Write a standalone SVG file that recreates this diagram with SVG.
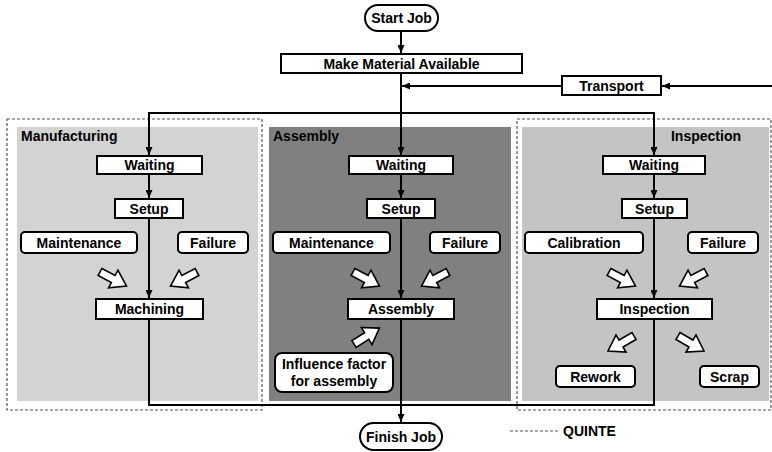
<svg xmlns="http://www.w3.org/2000/svg" width="772" height="452" viewBox="0 0 772 452">
<defs>
<style>
text{font-family:"Liberation Sans",Arial,sans-serif;font-weight:bold;font-size:14px;fill:#000}
.c{text-anchor:middle}
.box{fill:#fff;stroke:#000;stroke-width:2}
.ln{fill:none;stroke:#000;stroke-width:2}
.dash{fill:none;stroke:#555;stroke-width:1.2;stroke-dasharray:3,2}
.ha{fill:#fff;stroke:#000;stroke-width:1.6;stroke-linejoin:miter}
</style>
<marker id="ah" viewBox="0 0 8 7" refX="8" refY="3.5" markerWidth="8" markerHeight="7" markerUnits="userSpaceOnUse" orient="auto">
<path d="M0,0 L8,3.5 L0,7 Z" fill="#000"/>
</marker>
<path id="harrow" d="M0,-4 L15,-4 L15,-10 L30,0 L15,10 L15,4 L0,4 Z"/>
</defs>

<g id="panels">
<rect x="17" y="127" width="241" height="274" fill="#d3d3d3"/>
<rect x="269" y="127" width="242" height="274" fill="#808080"/>
<rect x="522" y="127" width="247" height="274" fill="#c4c4c4"/>
<rect x="7" y="119" width="255" height="291" class="dash"/>
<rect x="517" y="119" width="254" height="291" class="dash"/>
<text x="21" y="141">Manufacturing</text>
<text x="273" y="141">Assembly</text>
<text x="741" y="141" text-anchor="end">Inspection</text>
</g>

<g id="connectors">
<line x1="401" y1="31" x2="401" y2="53" class="ln" marker-end="url(#ah)"/>
<line x1="401" y1="73" x2="401" y2="155" class="ln" marker-end="url(#ah)"/>
<line x1="772" y1="86" x2="662" y2="86" class="ln" marker-end="url(#ah)"/>
<line x1="562" y1="86" x2="402" y2="86" class="ln" marker-end="url(#ah)"/>
<polyline points="149,155 149,113 654,113 654,155" class="ln"/>
<line x1="149" y1="113" x2="149" y2="155" class="ln" marker-end="url(#ah)"/>
<line x1="654" y1="113" x2="654" y2="155" class="ln" marker-end="url(#ah)"/>
<line x1="149" y1="174" x2="149" y2="198" class="ln" marker-end="url(#ah)"/>
<line x1="401" y1="174" x2="401" y2="198" class="ln" marker-end="url(#ah)"/>
<line x1="654" y1="174" x2="654" y2="198" class="ln" marker-end="url(#ah)"/>
<line x1="149" y1="218" x2="149" y2="298" class="ln" marker-end="url(#ah)"/>
<line x1="401" y1="218" x2="401" y2="298" class="ln" marker-end="url(#ah)"/>
<line x1="654" y1="218" x2="654" y2="298" class="ln" marker-end="url(#ah)"/>
<polyline points="149,319 149,405 654,405 654,319" class="ln"/>
<line x1="401" y1="319" x2="401" y2="422" class="ln" marker-end="url(#ah)"/>
<line x1="510" y1="431" x2="560" y2="431" class="dash"/>
</g>

<g id="hollow-arrows">
<use href="#harrow" class="ha" transform="translate(100,272) rotate(28)"/>
<use href="#harrow" class="ha" transform="translate(197,272) rotate(152)"/>
<use href="#harrow" class="ha" transform="translate(353,272) rotate(28)"/>
<use href="#harrow" class="ha" transform="translate(448,272) rotate(152)"/>
<use href="#harrow" class="ha" transform="translate(354,344) rotate(-32)"/>
<use href="#harrow" class="ha" transform="translate(609,272) rotate(28)"/>
<use href="#harrow" class="ha" transform="translate(706,272) rotate(152)"/>
<use href="#harrow" class="ha" transform="translate(634,336) rotate(150)"/>
<use href="#harrow" class="ha" transform="translate(678,336) rotate(30)"/>
</g>

<g id="start-job"><rect x="365" y="5" width="73" height="26" rx="13" class="box"/><text x="401.5" y="23" class="c">Start Job</text></g>
<g id="make-material"><rect x="281" y="54" width="241" height="19" class="box"/><text x="401.5" y="68.5" class="c">Make Material Available</text></g>
<g id="transport"><rect x="562" y="76" width="99" height="19" class="box"/><text x="611.5" y="90.5" class="c">Transport</text></g>

<g id="m-waiting"><rect x="97" y="156" width="105" height="18" class="box"/><text x="149.5" y="170" class="c">Waiting</text></g>
<g id="m-setup"><rect x="115" y="199" width="68" height="19" class="box"/><text x="149" y="213.5" class="c">Setup</text></g>
<g id="m-maintenance"><rect x="21" y="232" width="116" height="21" rx="4" class="box"/><text x="79" y="247.5" class="c">Maintenance</text></g>
<g id="m-failure"><rect x="178" y="232" width="70" height="21" rx="4" class="box"/><text x="213" y="247.5" class="c">Failure</text></g>
<g id="m-machining"><rect x="96" y="299" width="107" height="20" class="box"/><text x="149.5" y="314" class="c">Machining</text></g>

<g id="a-waiting"><rect x="349" y="156" width="104" height="18" class="box"/><text x="401" y="170" class="c">Waiting</text></g>
<g id="a-setup"><rect x="367" y="199" width="68" height="19" class="box"/><text x="401" y="213.5" class="c">Setup</text></g>
<g id="a-maintenance"><rect x="273" y="232" width="117" height="21" rx="4" class="box"/><text x="331.5" y="247.5" class="c">Maintenance</text></g>
<g id="a-failure"><rect x="430" y="232" width="70" height="21" rx="4" class="box"/><text x="465" y="247.5" class="c">Failure</text></g>
<g id="a-assembly"><rect x="348" y="299" width="106" height="20" class="box"/><text x="401" y="314" class="c">Assembly</text></g>
<g id="a-influence"><rect x="275" y="353" width="118" height="39" rx="7" class="box"/><text x="334" y="369" class="c">Influence factor</text><text x="334" y="386" class="c">for assembly</text></g>

<g id="i-waiting"><rect x="603" y="156" width="102" height="18" class="box"/><text x="654" y="170" class="c">Waiting</text></g>
<g id="i-setup"><rect x="622" y="199" width="65" height="19" class="box"/><text x="654.5" y="213.5" class="c">Setup</text></g>
<g id="i-calibration"><rect x="525" y="232" width="118" height="21" rx="4" class="box"/><text x="584" y="247.5" class="c">Calibration</text></g>
<g id="i-failure"><rect x="688" y="232" width="70" height="21" rx="4" class="box"/><text x="723" y="247.5" class="c">Failure</text></g>
<g id="i-inspection"><rect x="597" y="299" width="115" height="20" class="box"/><text x="654.5" y="314" class="c">Inspection</text></g>
<g id="i-rework"><rect x="556" y="366" width="79" height="21" rx="4" class="box"/><text x="595.5" y="381.5" class="c">Rework</text></g>
<g id="i-scrap"><rect x="700" y="366" width="59" height="21" rx="4" class="box"/><text x="729.5" y="381.5" class="c">Scrap</text></g>

<g id="finish-job"><rect x="360" y="423" width="82" height="27" rx="13.5" class="box"/><text x="401" y="441.5" class="c">Finish Job</text></g>
<g id="legend"><text x="563" y="436">QUINTE</text></g>
</svg>
